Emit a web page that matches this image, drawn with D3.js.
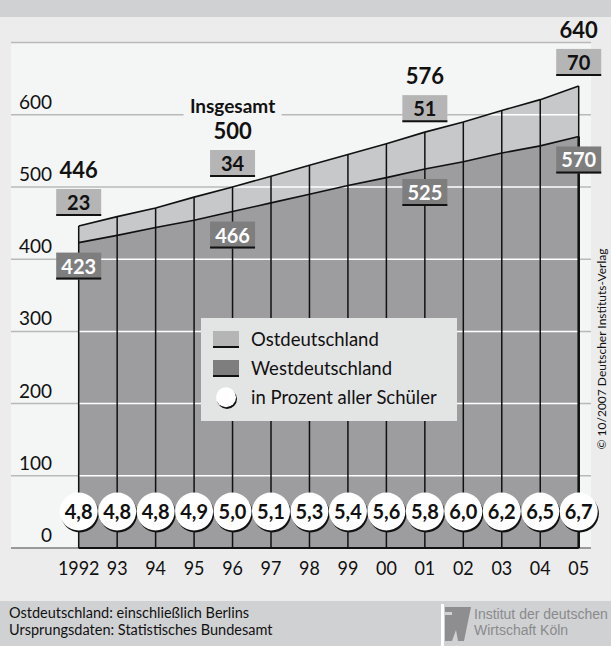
<!DOCTYPE html>
<html><head><meta charset="utf-8">
<script src="https://cdn.jsdelivr.net/npm/d3@7"></script>
<style>html,body{margin:0;padding:0;background:#ececec;}svg{display:block;}</style>
</head><body>
<svg id="c" width="611" height="646"></svg>
<script>
const years = [1992,1993,1994,1995,1996,1997,1998,1999,2000,2001,2002,2003,2004,2005];
const yearLabels = ["1992","93","94","95","96","97","98","99","00","01","02","03","04","05"];
const west = [423,433,444,454,466,478,490,502,513,525,535,547,557,570];
const ost  = [23,26,27,32,34,37,40,43,47,51,55,59,64,70];
const percent = ["4,8","4,8","4,8","4,9","5,0","5,1","5,3","5,4","5,6","5,8","6,0","6,2","6,5","6,7"];
const labelYears = [1992,1996,2001,2005];
const yTicks = [0,100,200,300,400,500,600];
const gridValues = [0,100,200,300,400,500,600,700];
const legendItems = ["Ostdeutschland","Westdeutschland","in Prozent aller Schüler"];
const footnotes = ["Ostdeutschland: einschließlich Berlins","Ursprungsdaten: Statistisches Bundesamt"];
const iwText = ["Institut der deutschen","Wirtschaft Köln"];
const copyright = "© 10/2007 Deutscher Instituts-Verlag";

const F = "Lato, 'Noto Sans', sans-serif";
const svg = d3.select("#c");
const data = years.map((y,i)=>({year:y, west:west[i], ost:ost[i], total:west[i]+ost[i], pct:percent[i], label:yearLabels[i]}));

const x = d3.scaleLinear().domain([1992,2005]).range([78.7,578.7]);
const y = d3.scaleLinear().domain([0,700]).range([548,42.6]);
const panelL = 11, panelR = 591;

// top strip
svg.append("rect").attr("x",0).attr("y",0).attr("width",611).attr("height",17).attr("fill","#d0d1d3");
svg.append("text").attr("x",124).attr("y",-3).attr("font-family",F).attr("font-size",18).attr("fill","#111").text("g");

// panel
svg.append("rect").attr("x",panelL).attr("y",y(700)).attr("width",panelR-panelL).attr("height",y(0)-y(700)).attr("fill","#f4f5f5");

// gray gridlines
svg.append("g").selectAll("line").data(gridValues).join("line")
  .attr("x1",panelL).attr("x2",panelR).attr("y1",d=>y(d)).attr("y2",d=>y(d))
  .attr("stroke",d=>d===0?"#9a9a9a":"#b9b9b9").attr("stroke-width",d=>d===0?2:1.5);

// y tick labels
svg.append("g").selectAll("text").data(yTicks).join("text")
  .attr("x",52).attr("y",d=>y(d)-6).attr("text-anchor","end")
  .attr("font-family",F).attr("font-size",19).attr("fill","#111").text(d=>d);

// areas
const areaTotal = d3.area().x(d=>x(d.year)).y0(y(0)).y1(d=>y(d.total));
const areaWest = d3.area().x(d=>x(d.year)).y0(y(0)).y1(d=>y(d.west));
svg.append("path").datum(data).attr("d",areaTotal).attr("fill","#c7c8ca");
svg.append("path").datum(data).attr("d",areaWest).attr("fill","#9d9d9f");

// white gridlines inside area
svg.append("clipPath").attr("id","areaClip").append("path").datum(data).attr("d",areaTotal);
svg.append("g").attr("clip-path","url(#areaClip)").selectAll("line").data(gridValues.filter(d=>d>0)).join("line")
  .attr("x1",panelL).attr("x2",panelR).attr("y1",d=>y(d)).attr("y2",d=>y(d))
  .attr("stroke","#ffffff").attr("stroke-width",1.5);

// vertical lines
svg.append("g").selectAll("line").data(data).join("line")
  .attr("x1",d=>x(d.year)).attr("x2",d=>x(d.year)).attr("y1",y(0)).attr("y2",d=>y(d.total))
  .attr("stroke","#111").attr("stroke-width",1.5);
const last = data[data.length-1];
svg.append("line").attr("x1",x(last.year)).attr("x2",x(last.year)).attr("y1",y(0)).attr("y2",y(last.west))
  .attr("stroke","#111").attr("stroke-width",2.5);

// top lines
const lineT = d3.line().x(d=>x(d.year)).y(d=>y(d.total));
const lineW = d3.line().x(d=>x(d.year)).y(d=>y(d.west));
svg.append("path").datum(data).attr("d",lineT).attr("fill","none").attr("stroke","#111").attr("stroke-width",1.6);
svg.append("path").datum(data).attr("d",lineW).attr("fill","none").attr("stroke","#111").attr("stroke-width",1.6);
svg.append("line").attr("x1",x(1992)).attr("x2",x(2005)).attr("y1",y(0)).attr("y2",y(0)).attr("stroke","#111").attr("stroke-width",2);

// legend
const lg = svg.append("g");
lg.append("rect").attr("x",201).attr("y",318).attr("width",256).attr("height",103).attr("fill","#e3e4e4");
const swCols = ["#b5b5b6","#7e7e7f"];
[0,1].forEach(i=>{
  const yy = 331 + i*29;
  lg.append("rect").attr("x",213).attr("y",yy).attr("width",26).attr("height",16).attr("fill",swCols[i]);
  lg.append("line").attr("x1",213).attr("x2",239).attr("y1",yy+16).attr("y2",yy+16).attr("stroke","#111").attr("stroke-width",2);
});
lg.append("circle").attr("cx",227).attr("cy",399).attr("r",10).attr("fill","#111");
lg.append("circle").attr("cx",226).attr("cy",397.3).attr("r",10).attr("fill","#fff");
lg.selectAll("text").data(legendItems).join("text")
  .attr("x",251).attr("y",(d,i)=>346+i*29).attr("font-family",F).attr("font-size",18.5).attr("fill","#111").text(d=>d);

// circles with percentages
const cy = 511.5, r = 19;
const cg = svg.append("g").selectAll("g").data(data).join("g");
cg.append("circle").attr("cx",d=>x(d.year)+1.2).attr("cy",cy+2).attr("r",r).attr("fill","#111");
cg.append("circle").attr("cx",d=>x(d.year)).attr("cy",cy).attr("r",r).attr("fill","#fff");
cg.append("text").attr("x",d=>x(d.year)).attr("y",cy+7).attr("text-anchor","middle")
  .attr("font-family",F).attr("font-weight","bold").attr("font-size",20).attr("fill","#111").text(d=>d.pct);

// x labels
svg.append("g").selectAll("text").data(data).join("text")
  .attr("x",d=>x(d.year)).attr("y",575).attr("text-anchor","middle")
  .attr("font-family",F).attr("font-size",20).attr("fill","#111")
  .attr("textLength",d=>d.label.length*10.4).attr("lengthAdjust","spacingAndGlyphs")
  .text(d=>d.label);

// value boxes
const bw = 45, bh = 27;
const lab = data.filter(d=>labelYears.includes(d.year));
const vb = svg.append("g").selectAll("g").data(lab).join("g");
// ost box
vb.append("rect").attr("x",d=>x(d.year)-bw/2).attr("y",d=>y(d.total)-10-bh).attr("width",bw).attr("height",bh).attr("fill","#b5b5b6");
vb.append("line").attr("x1",d=>x(d.year)-bw/2).attr("x2",d=>x(d.year)+bw/2).attr("y1",d=>y(d.total)-11).attr("y2",d=>y(d.total)-11).attr("stroke","#111").attr("stroke-width",2);
vb.append("text").attr("x",d=>x(d.year)).attr("y",d=>y(d.total)-10-bh+21).attr("text-anchor","middle")
  .attr("font-family",F).attr("font-weight","bold").attr("font-size",20).attr("fill","#111").text(d=>d.ost);
// west box
vb.append("rect").attr("x",d=>x(d.year)-bw/2).attr("y",d=>y(d.west)+10).attr("width",bw).attr("height",bh).attr("fill","#7e7e7f");
vb.append("line").attr("x1",d=>x(d.year)-bw/2).attr("x2",d=>x(d.year)+bw/2).attr("y1",d=>y(d.west)+10+bh-1).attr("y2",d=>y(d.west)+10+bh-1).attr("stroke","#111").attr("stroke-width",2);
vb.append("text").attr("x",d=>x(d.year)).attr("y",d=>y(d.west)+10+21).attr("text-anchor","middle")
  .attr("font-family",F).attr("font-weight","bold").attr("font-size",20).attr("fill","#fff").text(d=>d.west);
// total label
vb.append("text").attr("x",d=>x(d.year)).attr("y",d=>y(d.total)-10-bh-11).attr("text-anchor","middle")
  .attr("font-family",F).attr("font-weight","bold").attr("font-size",22).attr("fill","#111").text(d=>d.total);

// Insgesamt label
const d96 = data.find(d=>d.year===1996);
svg.append("rect").attr("x",x(1996)-49).attr("y",y(600)-3).attr("width",98).attr("height",6).attr("fill","#f4f5f5");
svg.append("text").attr("x",x(1996)).attr("y",y(d96.total)-10-bh-11-26).attr("text-anchor","middle")
  .attr("font-family",F).attr("font-weight","bold").attr("font-size",19).attr("fill","#111").text("Insgesamt");

// copyright
svg.append("text").attr("transform","translate(606,349) rotate(-90)").attr("text-anchor","middle")
  .attr("font-family",F).attr("font-size",12).attr("fill","#111").text(copyright);

// footer
svg.append("rect").attr("x",0).attr("y",601).attr("width",611).attr("height",45).attr("fill","#d0d1d3");
svg.append("g").selectAll("text").data(footnotes).join("text")
  .attr("x",9).attr("y",(d,i)=>618+i*17).attr("font-family",F).attr("font-size",14.5).attr("fill","#111").text(d=>d);
// IW logo
svg.append("rect").attr("x",441).attr("y",604).attr("width",3).attr("height",42).attr("fill","#fff");
const lgc = "#8e8e90";
svg.append("rect").attr("x",445).attr("y",607).attr("width",7).attr("height",5).attr("fill",lgc);
svg.append("rect").attr("x",445).attr("y",615).attr("width",7).attr("height",26).attr("fill",lgc);
svg.append("path").attr("d","M452,607 L471,607 L464,641 L458,641 L456,630 L452,641 Z").attr("fill",lgc);
svg.append("g").selectAll("text").data(iwText).join("text")
  .attr("x",474).attr("y",(d,i)=>619+i*16).attr("font-family","'Liberation Sans', Arial, sans-serif").attr("font-size",14).attr("fill","#8a8a8c").text(d=>d);
</script>
</body></html>
